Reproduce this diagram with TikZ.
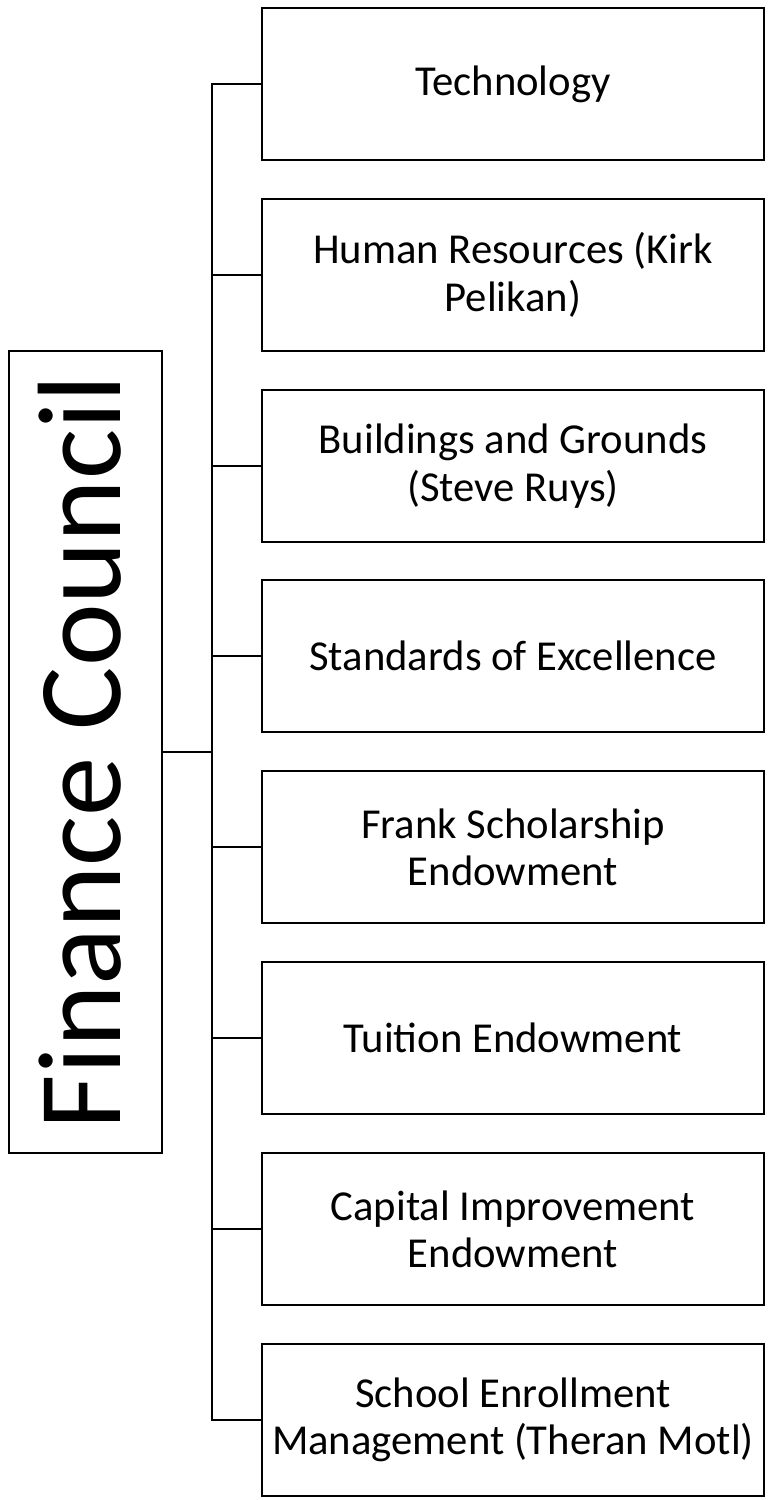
\documentclass[tikz,border=0pt]{standalone}
\usepackage{fontspec}
\setmainfont{Carlito}
\begin{document}
\begin{tikzpicture}[x=0.75pt,y=-0.75pt,
  line width=1.8pt,
  unit/.style={draw=black, line width=1.8pt, minimum width=376.5pt, minimum height=114pt,
    inner sep=0pt, outer sep=0pt, align=center,
    font=\fontsize{32}{35.5}\selectfont},
  council/.style={draw=black, line width=1.8pt, rotate=90, minimum width=601.5pt, minimum height=114.75pt,
    inner sep=0pt, outer sep=0pt, text height=60pt, text depth=6.8pt,
    font=\fontsize{89}{100}\selectfont},
  link/.style={draw=black, line width=1.8pt}]
\useasboundingbox (0,0) rectangle (769,1500);
\node[council] (fc) at (85.5,752) {Finance Council};
\node[unit] (b1) at (513,84) {Technology};
\node[unit] (b2) at (513,275) {Human Resources (Kirk\\Pelikan)};
\node[unit] (b3) at (513,466) {Buildings and Grounds\\(Steve Ruys)};
\node[unit] (b4) at (513,656) {Standards of Excellence};
\node[unit] (b5) at (513,847) {Frank Scholarship\\Endowment};
\node[unit] (b6) at (513,1038) {Tuition Endowment};
\node[unit] (b7) at (513,1229) {Capital Improvement\\Endowment};
\node[unit] (b8) at (513,1420) {School Enrollment\\Management (Theran Motl)};
\coordinate (trunk) at (212,752);
\draw[link] (fc.south) -- (trunk);
\draw[link] (b1.west) -| (trunk) |- (b8.west);
\foreach \i in {2,...,7} {\draw[link] (b\i.west) -- (b\i.west -| trunk);}
\end{tikzpicture}
\end{document}
